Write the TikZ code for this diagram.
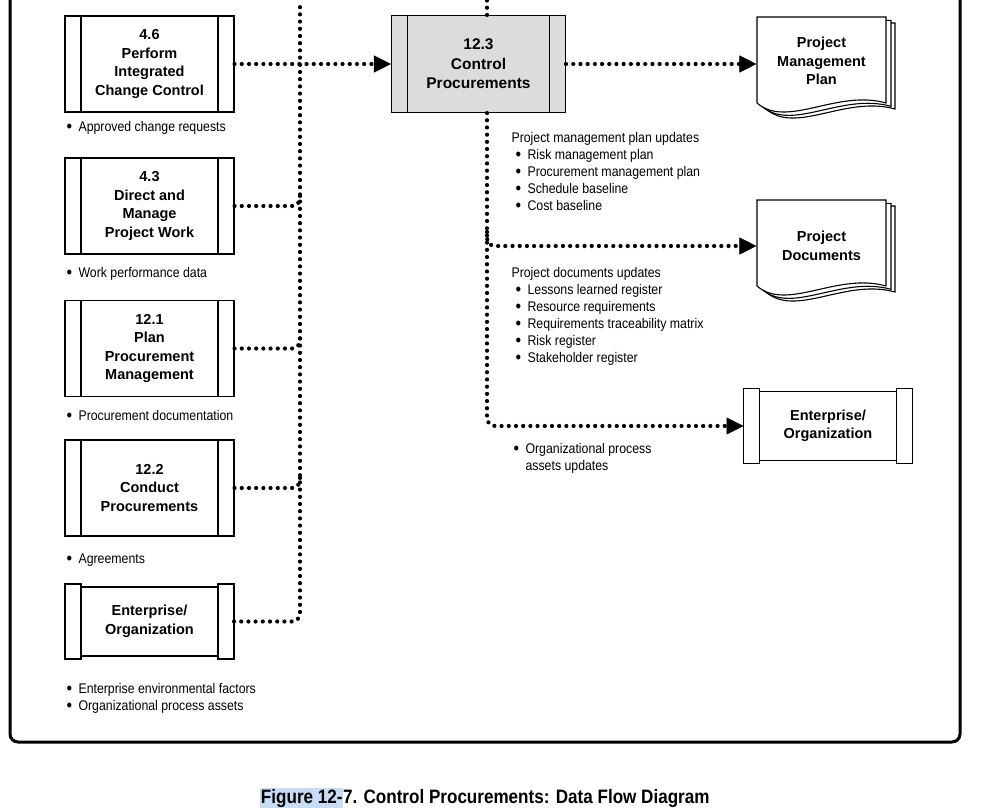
\documentclass[tikz,border=0pt]{standalone}
\usepackage{fontspec}
\setmainfont{Liberation Sans}
\newfontfamily\condfont[FakeStretch=0.88]{Liberation Sans}
\usetikzlibrary{arrows.meta,calc}
\definecolor{procgray}{HTML}{DCDCDC}
\definecolor{hilite}{HTML}{C7DDF4}
\newcommand\itembul{\makebox[12pt][l]{\raisebox{-1.2pt}{\fontsize{18}{17}\selectfont\textbullet}}}

\begin{document}
\begin{tikzpicture}[x=1pt, y=1pt, line width=1.1pt,
    procbox/.style={draw, fill=white, minimum width=169, minimum height=96, align=center,
        font=\fontsize{14.5}{18.5}\selectfont\bfseries,
        path picture={\draw ([xshift=16]path picture bounding box.north west) -- ([xshift=16]path picture bounding box.south west);
                      \draw ([xshift=-16]path picture bounding box.north east) -- ([xshift=-16]path picture bounding box.south east);}},
    entbox/.style={minimum width=169, minimum height=75, outer sep=0, align=center,
        font=\fontsize{14.5}{18.5}\selectfont\bfseries,
        append after command={\pgfextra{
            \draw (\tikzlastnode.north west) rectangle ([xshift=16]\tikzlastnode.south west);
            \draw (\tikzlastnode.north east) rectangle ([xshift=-16]\tikzlastnode.south east);
            \draw ([shift={(16,-3)}]\tikzlastnode.north west) -- ([shift={(-16,-3)}]\tikzlastnode.north east);
            \draw ([shift={(16,3)}]\tikzlastnode.south west) -- ([shift={(-16,3)}]\tikzlastnode.south east);}}},
    docnode/.style={minimum width=129, minimum height=86, inner sep=0, align=center,
        font=\fontsize{14.5}{18.5}\selectfont\bfseries},
    docpage/.pic={\draw[fill=white] (0,0) -- (129,0) -- (129,-86) .. controls (80,-72) and (30,-112) .. (0,-86) -- cycle;},
    flow/.style={line width=4.2pt, dash pattern=on 0pt off 7.2pt, line cap=round},
    flowtip/.style={-{Triangle[length=17pt, width=17pt, line width=0.5pt]}},
    bullets/.style={anchor=north west, inner sep=0, align=left, font=\condfont\fontsize{14}{17}\selectfont}]

    \useasboundingbox (0,0) rectangle (982,-808);
    % outer frame
    \draw[line width=3pt, rounded corners=8] (10,2) -- (10,-742) -- (960,-742) -- (960,2);

    % inputs
    \node[procbox] (b46) at (149.5,-64) {4.6\\Perform\\Integrated\\Change Control};
    \node[procbox] (b43) at (149.5,-206) {4.3\\Direct and\\Manage\\Project Work};
    \node[procbox] (b121) at (149.5,-348.5) {12.1\\Plan\\Procurement\\Management};
    \node[procbox] (b122) at (149.5,-488) {12.2\\Conduct\\Procurements};
    \node[entbox] (entL) at (149.5,-621.5) {Enterprise/\\Organization};

    \node[bullets] (t46) at (66,-121) {\itembul Approved change requests};
    \node[bullets] (t43) at (66,-267) {\itembul Work performance data};
    \node[bullets] (t121) at (66,-410) {\itembul Procurement documentation};
    \node[bullets] (t122) at (66,-553) {\itembul Agreements};
    \node[bullets] (tentL) at (66,-683) {\itembul Enterprise environmental factors\\\itembul Organizational process assets};

    % process
    \node[procbox, fill=procgray, minimum width=174, minimum height=97,
        font=\fontsize{15.5}{19.5}\selectfont\bfseries] (c123) at (478.5,-64) {12.3\\Control\\Procurements};

    % outputs
    \foreach \d in {9,5,0} \pic[shift={(\d,-0.67*\d)}] at (757,-17) {docpage};
    \node[docnode] (pmp) at (821.5,-61) {Project\\Management\\Plan};
    \foreach \d in {9,5,0} \pic[shift={(\d,-0.67*\d)}] at (757,-200) {docpage};
    \node[docnode] (pdoc) at (821.5,-246) {Project\\Documents};
    \node[entbox] (entR) at (828,-426) {Enterprise/\\Organization};

    \node[bullets] (tpmp) at (511,-132) {Project management plan updates\\
        \hspace*{4pt}\itembul Risk management plan\\
        \hspace*{4pt}\itembul Procurement management plan\\
        \hspace*{4pt}\itembul Schedule baseline\\
        \hspace*{4pt}\itembul Cost baseline};
    \node[bullets] (tpdoc) at (511,-267) {Project documents updates\\
        \hspace*{4pt}\itembul Lessons learned register\\
        \hspace*{4pt}\itembul Resource requirements\\
        \hspace*{4pt}\itembul Requirements traceability matrix\\
        \hspace*{4pt}\itembul Risk register\\
        \hspace*{4pt}\itembul Stakeholder register};
    \node[bullets] (tentR) at (513,-443) {\itembul Organizational process\\\hspace*{12pt}assets updates};

    % caption
    \node[anchor=base, inner sep=0, font=\condfont\bfseries\fontsize{19.4}{24}\selectfont] (cap) at (485,-803)
        {{\fboxsep=0.5pt\colorbox{hilite}{Figure 12-}}7. Control Procurements: Data Flow Diagram};

    % flows
    \coordinate (inL) at (300,0);
    \coordinate (inT) at (487,0);
    \draw[flow] (c123.north -| inT) -- (inT);
    \draw[flow, rounded corners=8] (entL.east) -| (inL);
    \foreach \bx in {b43,b121,b122}
        \draw[flow, rounded corners=8] (\bx.east) -| ($(\bx.east -| inL)+(0,14)$);
    \draw[flow, flowtip] (b46.east) -- (b46.east -| c123.west);
    \draw[flow, flowtip] (c123.east) -- (c123.east -| pmp.west);
    \draw[flow, flowtip, rounded corners=8] (c123.south -| inT) |- (entR.west);
    \draw[flow, flowtip, rounded corners=8] ($(inT |- pdoc.west)+(0,14)$) |- (pdoc.west);
\end{tikzpicture}
\end{document}
